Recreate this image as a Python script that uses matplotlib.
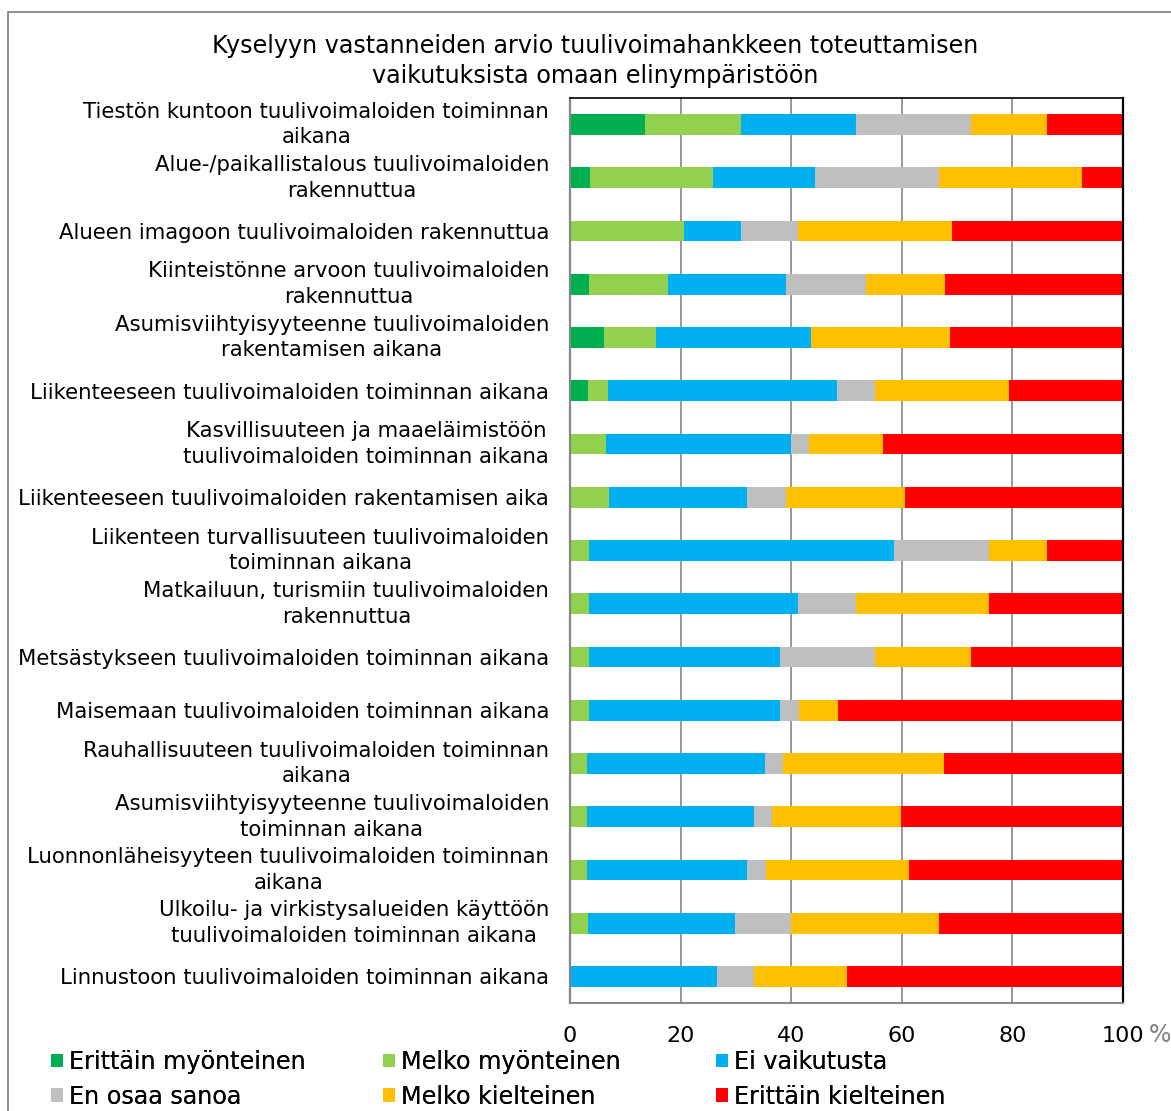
import numpy as np
import matplotlib
matplotlib.use("Agg")
import matplotlib.pyplot as plt
from matplotlib.patches import Rectangle

# rows top to bottom
kysymykset = [
    "Tiestön kuntoon tuulivoimaloiden toiminnan\naikana",
    "Alue-/paikallistalous tuulivoimaloiden\nrakennuttua",
    "Alueen imagoon tuulivoimaloiden rakennuttua",
    "Kiinteistönne arvoon tuulivoimaloiden\nrakennuttua",
    "Asumisviihtyisyyteenne tuulivoimaloiden\nrakentamisen aikana",
    "Liikenteeseen tuulivoimaloiden toiminnan aikana",
    "Kasvillisuuteen ja maaeläimistöön\ntuulivoimaloiden toiminnan aikana",
    "Liikenteeseen tuulivoimaloiden rakentamisen aika",
    "Liikenteen turvallisuuteen tuulivoimaloiden\ntoiminnan aikana",
    "Matkailuun, turismiin tuulivoimaloiden\nrakennuttua",
    "Metsästykseen tuulivoimaloiden toiminnan aikana",
    "Maisemaan tuulivoimaloiden toiminnan aikana",
    "Rauhallisuuteen tuulivoimaloiden toiminnan\naikana",
    "Asumisviihtyisyyteenne tuulivoimaloiden\ntoiminnan aikana",
    "Luonnonläheisyyteen tuulivoimaloiden toiminnan\naikana",
    "Ulkoilu- ja virkistysalueiden käyttöön\ntuulivoimaloiden toiminnan aikana",
    "Linnustoon tuulivoimaloiden toiminnan aikana",
]

erittain_myonteinen = [13.6, 3.6, 0, 3.4, 6.2, 3.3, 0, 0, 0, 0, 0, 0, 0, 0, 0, 0, 0]
melko_myonteinen = [17.3, 22.3, 20.6, 14.4, 9.3, 3.5, 6.5, 7.0, 3.4, 3.4, 3.4, 3.4, 3.1, 3.1, 3.1, 3.2, 0]
ei_vaikutusta = [20.8, 18.4, 10.3, 21.3, 28.1, 41.4, 33.4, 25.0, 55.1, 37.9, 34.5, 34.5, 32.2, 30.2, 28.9, 26.7, 26.5]
en_osaa_sanoa = [20.8, 22.4, 10.4, 14.4, 0, 7.0, 3.3, 7.1, 17.3, 10.4, 17.3, 3.5, 3.3, 3.3, 3.4, 10.0, 6.8]
melko_kielteinen = [13.8, 25.9, 27.7, 14.4, 25.2, 24.1, 13.4, 21.5, 10.5, 24.1, 17.4, 7.0, 29.1, 23.3, 25.9, 26.8, 16.7]
erittain_kielteinen = [13.7, 7.4, 31.0, 32.1, 31.2, 20.7, 43.4, 39.4, 13.7, 24.2, 27.4, 51.6, 32.3, 40.1, 38.7, 33.3, 50.0]

sarjat = [
    ("Erittäin myönteinen", erittain_myonteinen, "#00B050"),
    ("Melko myönteinen", melko_myonteinen, "#92D050"),
    ("Ei vaikutusta", ei_vaikutusta, "#00B0F0"),
    ("En osaa sanoa", en_osaa_sanoa, "#BFBFBF"),
    ("Melko kielteinen", melko_kielteinen, "#FFC000"),
    ("Erittäin kielteinen", erittain_kielteinen, "#FF0000"),
]

W, H = 1171, 1111
fig = plt.figure(figsize=(W / 100, H / 100), dpi=100)
ax = fig.add_axes([570 / W, 1 - 1003 / H, (1123 - 570) / W, (1003 - 98) / H])

y = np.arange(len(kysymykset))
left = np.zeros(len(kysymykset))
bars = []
for nimi, arvot, vari in sarjat:
    b = ax.barh(y, arvot, left=left, height=0.39, color=vari, label=nimi, linewidth=0)
    bars.append(b)
    left += np.array(arvot)

ax.set_xlim(0, 100)
ax.set_ylim(len(kysymykset) - 0.5, -0.5)
ax.set_xticks([0, 20, 40, 60, 80, 100])
ax.set_yticks(y)
ax.set_yticklabels(kysymykset, fontsize=15.3, ma="center", linespacing=1.36)
# two-line labels centred on the bar
for t in ax.get_yticklabels():
    if "\n" in t.get_text():
        t.set_va("center")
ax.tick_params(axis="y", length=0, pad=15)
ax.tick_params(axis="x", length=0, pad=16.5, labelsize=16)
ax.grid(axis="x", color="#868686", linewidth=1.2)
ax.set_axisbelow(True)

ax.spines["left"].set_color("#868686")
ax.spines["left"].set_linewidth(1.6)
ax.spines["bottom"].set_color("#868686")
ax.spines["bottom"].set_linewidth(1.4)
ax.spines["top"].set_color("black")
ax.spines["top"].set_linewidth(1.2)
ax.spines["right"].set_color("black")
ax.spines["right"].set_linewidth(1.6)

fig.text(1149 / W, 1 - 1035 / H, "%", fontsize=17, color="#808080", va="center", ha="left")

fig.text(595 / W, 1 - 61 / H,
         "Kyselyyn vastanneiden arvio tuulivoimahankkeen toteuttamisen\nvaikutuksista omaan elinympäristöön",
         fontsize=17.2, ha="center", va="center", ma="center", linespacing=1.28)

# legend: one column at a time so the columns sit where they do in the original
sarake_x = [51, 383, 716]
for c, x in enumerate(sarake_x):
    leg = fig.legend([bars[c], bars[c + 3]], [sarjat[c][0], sarjat[c + 3][0]],
                     loc="upper left", bbox_to_anchor=(x / W, 1 - 1050 / H),
                     frameon=False, fontsize=17.2, handlelength=0.5, handleheight=0.5,
                     handletextpad=0.25, labelspacing=0.45, borderpad=0, borderaxespad=0)
    fig.add_artist(leg)

# outer chart border
fig.patches.append(Rectangle((8 / W, -0.1), 1.2, 1.1 - 12 / H, transform=fig.transFigure,
                             fill=False, edgecolor="#868686", linewidth=1.3))

plt.savefig("out.png", dpi=100)
